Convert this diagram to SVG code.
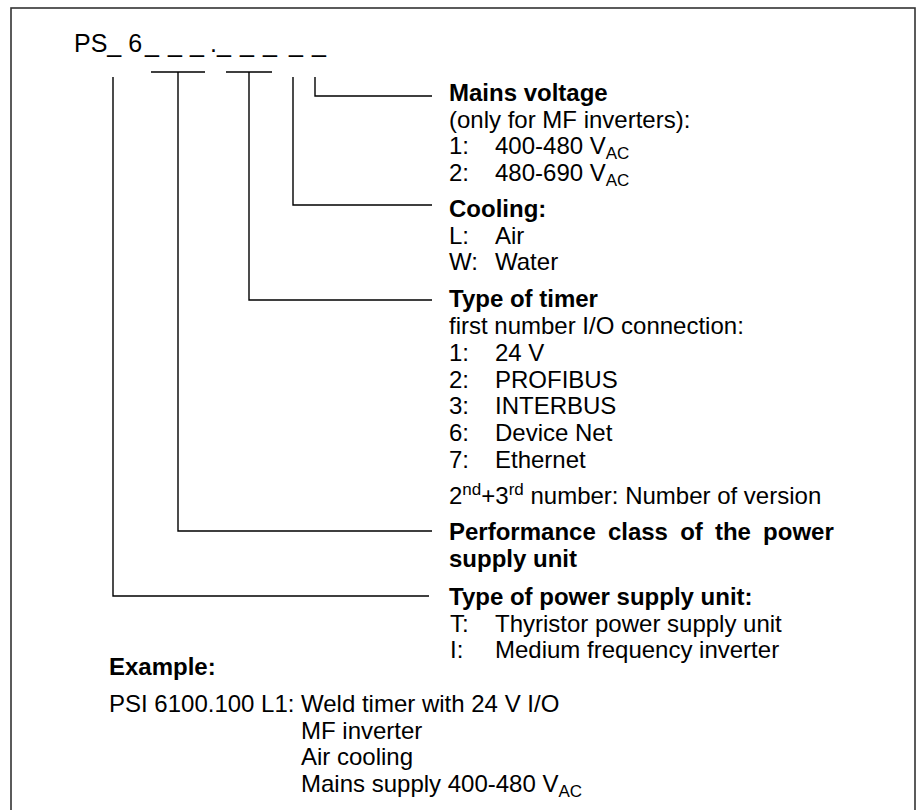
<svg xmlns="http://www.w3.org/2000/svg" width="921" height="810" viewBox="0 0 921 810">
<style>
text{font-family:"Liberation Sans",Arial,sans-serif;font-size:24px;fill:#000}
.b{font-weight:bold}
.t{font-size:25px}
.sub{font-size:17px}
.ln{fill:none;stroke:#000;stroke-width:1.4}
</style>
<rect x="11" y="8" width="904" height="830" fill="#fff" stroke="#333" stroke-width="1.6"/>
<g id="code">
<text class="t" x="74" y="52">PS_ 6<tspan x="145 168 190 210 217 240 263 289 312">___._____</tspan></text>
</g>
<g id="connectors">
<path class="ln" d="M151 72H205M226 72H272"/>
<path class="ln" d="M315 77V96H432"/>
<path class="ln" d="M293 77V205H432"/>
<path class="ln" d="M249 72V300H432"/>
<path class="ln" d="M178 72V531H432"/>
<path class="ln" d="M113 77V596H429"/>
</g>
<g id="mains">
<text class="b" x="449" y="101">Mains voltage</text>
<text x="449" y="127.5">(only for MF inverters):</text>
<text x="449" y="154">1:<tspan x="495">400-480 V</tspan><tspan class="sub" dy="5">AC</tspan></text>
<text x="449" y="180.5">2:<tspan x="495">480-690 V</tspan><tspan class="sub" dy="5">AC</tspan></text>
</g>
<g id="cooling">
<text class="b" x="449" y="217">Cooling:</text>
<text x="449" y="243.5">L:<tspan x="495">Air</tspan></text>
<text x="449" y="270">W:<tspan x="495">Water</tspan></text>
</g>
<g id="timer">
<text class="b" x="449" y="307">Type of timer</text>
<text x="449" y="334">first number I/O connection:</text>
<text x="449" y="361">1:<tspan x="495">24 V</tspan></text>
<text x="449" y="387.5">2:<tspan x="495">PROFIBUS</tspan></text>
<text x="449" y="414">3:<tspan x="495">INTERBUS</tspan></text>
<text x="449" y="441">6:<tspan x="495">Device Net</tspan></text>
<text x="449" y="467.5">7:<tspan x="495">Ethernet</tspan></text>
<text x="449" y="504">2<tspan class="sub" dy="-9">nd</tspan><tspan dy="9">+3</tspan><tspan class="sub" dy="-9">rd</tspan><tspan dy="9"> number: Number of version</tspan></text>
</g>
<g id="performance">
<text class="b" x="449" y="540" word-spacing="5.5">Performance class of the power</text>
<text class="b" x="449" y="567">supply unit</text>
</g>
<g id="type">
<text class="b" x="449" y="605">Type of power supply unit:</text>
<text x="450" y="632">T:<tspan x="495">Thyristor power supply unit</tspan></text>
<text x="450" y="658">I:<tspan x="495">Medium frequency inverter</tspan></text>
</g>
<g id="example">
<text class="b" x="109" y="675">Example:</text>
<text x="109" y="712">PSI 6100.100 L1: <tspan x="301">Weld timer with 24 V I/O</tspan></text>
<text x="301" y="738.5">MF inverter</text>
<text x="301" y="765">Air cooling</text>
<text x="301" y="792">Mains supply 400-480 V<tspan class="sub" dy="5">AC</tspan></text>
</g>
</svg>
